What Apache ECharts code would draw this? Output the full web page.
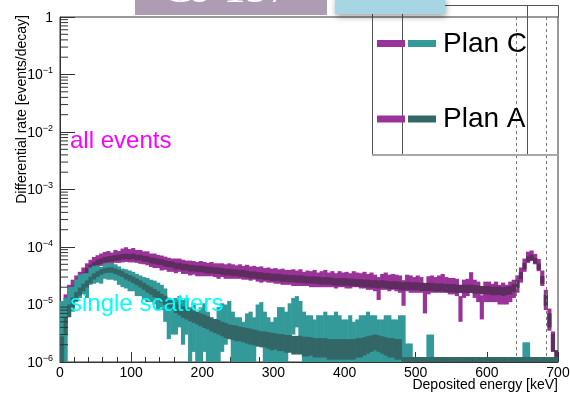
<!DOCTYPE html>
<html>
<head>
<meta charset="utf-8">
<script src="https://cdn.jsdelivr.net/npm/echarts/dist/echarts.min.js"></script>
<style>
  html, body { margin: 0; padding: 0; background: #fff; }
  #chart { width: 570px; height: 395px; }
</style>
</head>
<body>
<div id="chart"></div>
<script>
// Cs-137 deposited-energy spectra, 5 keV bins from 0 to 700 keV.
// Rates are given in units of 1e-6 events/decay; each bin has a value and a symmetric error.
const BIN_WIDTH = 5;
const UNIT = 1e-6;
const Y_MIN = 1e-6, Y_MAX = 1;

// Plan C, all events
const planC_all = [
  3, 10, 16, 20, 24, 28, 34, 41, 48, 54,
  58, 62, 66, 68, 65, 71, 69, 74, 77, 73,
  75, 71, 70, 67, 66, 61, 60, 58, 55, 54,
  51, 50, 49, 50, 47, 46, 45, 45, 43, 44,
  43, 42, 43, 41, 40, 41, 39, 40, 39, 38,
  39, 37, 38, 36, 37, 35, 35, 34, 34, 33,
  33, 32, 32, 31, 31, 31, 30, 31, 29, 30,
  29, 30, 28, 29, 30, 28, 29, 27, 29, 28,
  28, 27, 29, 28, 27, 28, 26, 27, 25, 21,
  26, 27, 25, 26, 25, 24, 18, 25, 24, 23,
  24, 23, 15, 23, 24, 23, 24, 25, 23, 22,
  22, 21, 9.5, 20, 21, 27, 20, 18, 10, 18,
  18, 17, 18, 16, 17, 16, 18, 20, 24, 34,
  50, 68, 72, 63, 50, 30, 13, 6, 2.5, 1.3
];
const planC_allErr = [
  2.5, 5, 6, 7, 8, 9, 10, 11, 12, 13,
  14, 15, 16, 17, 15, 18, 16, 20, 22, 19,
  21, 18, 19, 17, 18, 16, 17, 15, 16, 14,
  14, 13, 14, 13, 13, 12, 13, 12, 12, 13,
  12, 11, 12, 11, 12, 11, 11, 12, 11, 10,
  11, 10, 11, 10, 10, 10, 11, 9, 10, 9,
  10, 9, 10, 9, 9, 10, 9, 10, 8, 9,
  9, 10, 8, 9, 10, 8, 9, 8, 9, 8,
  9, 8, 9, 8, 8, 9, 8, 9, 8, 9,
  8, 9, 8, 8, 8, 8, 8.5, 8, 8, 7,
  8, 7, 8, 8, 8, 7, 8, 9, 7, 7,
  7, 7, 4.5, 7, 7, 9.5, 7, 7, 4.5, 7,
  7, 6, 7, 6, 7, 6, 7, 7, 8, 10,
  13, 15, 15, 13, 12, 9, 5, 2.5, 0.9, 0.3
];

// Plan A, all events
const planA_all = [
  2.5, 9, 14, 18.5, 22, 27.5, 32, 38, 44, 49,
  54, 57, 60, 62, 63, 65, 66, 68, 69, 68,
  69, 66, 66, 63, 62, 59, 58, 56, 55, 52,
  51, 50, 47, 47, 45, 45, 43, 43, 42, 42,
  41, 40, 40, 39, 39, 38, 37, 37, 36, 36,
  35, 35, 34, 33, 33, 32, 32, 31, 31, 30,
  30, 30, 29, 29, 28.5, 28.5, 28, 28, 27.5, 27,
  27, 27, 26.5, 26, 26, 26, 25.5, 25, 25, 25,
  25, 24.5, 24.5, 24, 24, 23.5, 23.5, 23, 23, 22.5,
  23, 22.5, 22, 22, 22, 21.5, 21, 21.5, 21, 21,
  21, 20.5, 20.5, 20.5, 20.5, 20, 20, 20, 19.5, 19.5,
  19.5, 19, 19, 19, 19, 19, 18.5, 18.5, 18, 18,
  18, 17.5, 17.5, 17.5, 17, 17.5, 18, 19.5, 23, 32,
  47, 62, 66, 58, 46, 27, 12, 5.5, 2.3, 1.2
];
const planA_allErr = [
  1.2, 2, 2.5, 2.8, 3.2, 3.6, 4.2, 4.8, 5.3, 5.8,
  6.2, 6.5, 6.8, 7, 7.2, 7.2, 7.4, 7.5, 7.6, 7.6,
  7.5, 7.4, 7.3, 7.2, 7, 6.9, 6.8, 6.6, 6.5, 6.4,
  6.2, 6.1, 6, 5.9, 5.8, 5.7, 5.6, 5.5, 5.5, 5.4,
  5.3, 5.3, 5.2, 5.1, 5.1, 5, 5, 4.9, 4.8, 4.8,
  4.7, 4.7, 4.6, 4.6, 4.5, 4.5, 4.4, 4.4, 4.3, 4.3,
  4.2, 4.2, 4.2, 4.1, 4.1, 4.1, 4, 4, 4, 3.9,
  3.9, 3.9, 3.9, 3.8, 3.8, 3.8, 3.8, 3.7, 3.7, 3.7,
  3.7, 3.7, 3.6, 3.6, 3.6, 3.6, 3.6, 3.5, 3.5, 3.5,
  3.5, 3.5, 3.4, 3.4, 3.4, 3.4, 3.4, 3.4, 3.3, 3.3,
  3.3, 3.3, 3.3, 3.3, 3.3, 3.2, 3.2, 3.2, 3.2, 3.2,
  3.2, 3.1, 3.1, 3.1, 3.1, 3.1, 3.1, 3, 3, 3,
  3, 3, 3, 2.9, 2.9, 2.9, 3, 3.1, 3.5, 4.4,
  5.8, 6.6, 6.9, 6.4, 5.6, 4.2, 2.6, 1.5, 0.8, 0.4
];

// Plan C, single scatters (0 = empty bin)
const planC_single = [
  6, 7, 14, 14, 19, 23, 25, 24, 33, 35,
  36, 34, 40, 39, 40, 38, 34, 31, 30, 28,
  27, 24, 23, 21, 20, 19, 18, 16, 15, 12,
  6, 6, 8, 9, 7, 8, 5, 6, 4, 5,
  6, 4, 2, 3, 5, 6, 6, 7, 4, 3,
  3, 2.5, 4, 4, 3, 6, 6.5, 4, 3, 2.5,
  3, 5, 5, 4, 6, 8, 9, 7, 4, 3.5,
  3.5, 3, 3.5, 3.5, 4, 3.5, 3.5, 4, 3.5, 3,
  3, 3.5, 2.5, 3, 3.5, 3.5, 4, 3.5, 3.5, 3,
  3, 3.5, 3.5, 3, 3, 3.5, 3.5, 1.5, 1.5, 0,
  0, 0, 0, 2.1, 2.1, 0, 0, 0, 0, 0,
  0, 0, 0, 0, 0, 0, 0, 0, 0, 0,
  0, 0, 0, 0, 0, 0, 0, 0, 0, 0,
  1.6, 1.6, 0, 0, 0, 0, 0, 0, 0, 0
];
const planC_singleErr = [
  5.5, 6, 6, 6.5, 8, 10, 10, 11, 11, 12,
  12, 11, 12, 12, 13, 12, 12, 11, 11, 11,
  10, 10, 9, 9, 9, 8, 8, 8, 7, 7,
  3.5, 3, 5, 5, 5, 5, 4, 4.5, 3.5, 4,
  4.5, 3.5, 2, 2.5, 4, 4.5, 4, 4.5, 3.5, 3,
  3, 2.5, 3, 3.5, 3, 4, 4.5, 3.5, 3, 2.5,
  3, 4, 4, 3.5, 4.5, 5, 5, 4.5, 3.5, 3,
  3, 2.5, 3, 3, 3.5, 3, 3, 3.5, 3, 2.5,
  2.5, 3, 2.5, 2.5, 3, 3, 3.5, 3, 3, 2.5,
  2.5, 3, 3, 2.5, 2.5, 3, 3, 0.6, 0.6, 0,
  0, 0, 0, 0.9, 0.9, 0, 0, 0, 0, 0,
  0, 0, 0, 0, 0, 0, 0, 0, 0, 0,
  0, 0, 0, 0, 0, 0, 0, 0, 0, 0,
  0.6, 0.6, 0, 0, 0, 0, 0, 0, 0, 0
];

// Plan A, single scatters
const planA_single = [
  1.8, 4.5, 8, 11, 14, 17, 20, 23, 27, 31,
  34, 37, 39, 40, 40, 38, 36, 34, 31, 29,
  27, 25, 23, 21, 19, 17.5, 16, 14.5, 13, 12,
  11, 10, 9, 8.3, 7.6, 7.1, 6.7, 6.3, 6, 5.6,
  5.3, 5, 4.7, 4.4, 4.2, 3.9, 3.7, 3.5, 3.4, 3.3,
  3.2, 3.1, 3, 2.9, 2.8, 2.7, 2.6, 2.6, 2.5, 2.4,
  2.4, 2.3, 2.3, 2.2, 2.2, 2.1, 2.1, 2.1, 2, 2,
  2, 1.9, 1.9, 1.9, 1.9, 1.8, 1.8, 1.8, 1.8, 1.8,
  1.8, 1.8, 1.8, 1.9, 1.9, 2, 2.1, 2.2, 2.3, 2.2,
  2.1, 2, 1.9, 1.9, 1.8, 1.8, 1.1, 1.1, 1.1, 1.1,
  1.1, 1.1, 1.1, 1.1, 1.1, 1.1, 1.1, 1.1, 1.1, 1.1,
  1.1, 1.1, 1.1, 1.1, 1.1, 1.1, 1.1, 1.1, 1.1, 1.1,
  1.1, 1.1, 1.1, 1.1, 1.1, 1.1, 1.1, 1.1, 1.1, 1.1,
  1.1, 1.1, 1.1, 1.1, 1.1, 1.1, 1.1, 1.1, 1.1, 1.1
];
const planA_singleErr = [
  1, 1.5, 2, 2.2, 2.5, 2.7, 3, 3.2, 3.5, 3.7,
  3.9, 4, 4.2, 4.2, 4.2, 4.1, 4, 3.9, 3.7, 3.6,
  3.5, 3.3, 3.2, 3, 2.9, 2.7, 2.6, 2.5, 2.3, 2.2,
  2.1, 2, 1.9, 1.8, 1.7, 1.6, 1.6, 1.5, 1.5, 1.4,
  1.4, 1.3, 1.3, 1.2, 1.2, 1.1, 1.1, 1, 1, 1,
  0.9, 0.9, 0.9, 0.9, 0.85, 0.85, 0.8, 0.8, 0.8, 0.8,
  0.75, 0.75, 0.75, 0.75, 0.75, 0.75, 0.75, 0.75, 0.75, 0.75,
  0.7, 0.7, 0.7, 0.7, 0.7, 0.7, 0.7, 0.7, 0.7, 0.7,
  0.7, 0.7, 0.7, 0.7, 0.7, 0.7, 0.7, 0.7, 0.7, 0.7,
  0.7, 0.7, 0.7, 0.7, 0.7, 0.7, 0.12, 0.12, 0.12, 0.12,
  0.12, 0.12, 0.12, 0.12, 0.12, 0.12, 0.12, 0.12, 0.12, 0.12,
  0.12, 0.12, 0.12, 0.12, 0.12, 0.12, 0.12, 0.12, 0.12, 0.12,
  0.12, 0.12, 0.12, 0.12, 0.12, 0.12, 0.12, 0.12, 0.12, 0.12,
  0.12, 0.12, 0.12, 0.12, 0.12, 0.12, 0.12, 0.12, 0.12, 0.12
];

// Photopeak energy window edges (keV)
const windowEdges = [642, 683];

// Axis ticks
const xTicks = [0, 100, 200, 300, 400, 500, 600, 700];
const yDecades = [-6, -5, -4, -3, -2, -1, 0];

const FONT = 'Liberation Sans, Arial, Helvetica, sans-serif';
const AXIS_COLOR = '#333';
const COLORS = {
  planC_all: '#993399',
  planA_all: '#5e2c5e',
  planC_single: '#339999',
  planA_single: '#336666'
};

// (x0, x1, lo, hi) rows for one histogram
function binRows(vals, errs) {
  const rows = [];
  vals.forEach((v, i) => {
    if (v <= 0) return;
    const x0 = i * BIN_WIDTH, x1 = (i + 1) * BIN_WIDTH;
    const lo = Math.max((v - errs[i]) * UNIT, Y_MIN);
    const hi = (v + errs[i]) * UNIT;
    rows.push([x0, x1, lo, hi]);
  });
  return rows;
}

function histSeries(name, vals, errs, color, z) {
  return {
    name, type: 'custom', z, silent: true, clip: true,
    data: binRows(vals, errs),
    encode: { x: [0, 1], y: [2, 3] },
    renderItem(params, api) {
      const a = api.coord([api.value(0), api.value(3)]);
      const b = api.coord([api.value(1), api.value(2)]);
      return {
        type: 'rect',
        shape: { x: a[0], y: a[1], width: b[0] - a[0] + 0.6, height: Math.max(b[1] - a[1], 1) },
        style: { fill: color }
      };
    }
  };
}

// Minor ticks on the log axis (2..9 within each decade)
const yMinorTicks = [];
yDecades.slice(0, -1).forEach(d => {
  for (let k = 2; k <= 9; k++) yMinorTicks.push([0, k * Math.pow(10, d)]);
});

const chart = echarts.init(document.getElementById('chart'), null, { renderer: 'canvas' });

const option = {
  animation: false,
  backgroundColor: '#fff',
  grid: {
    left: 60, right: 12, top: 17, bottom: 33,
    containLabel: false, outerBoundsMode: 'none',
    show: true, borderColor: AXIS_COLOR, borderWidth: 1, backgroundColor: 'transparent'
  },
  xAxis: {
    type: 'value', min: xTicks[0], max: xTicks[xTicks.length - 1], interval: 100,
    axisLine: { onZero: false, lineStyle: { color: AXIS_COLOR, width: 1 } },
    axisTick: { inside: true, length: 10, lineStyle: { color: AXIS_COLOR } },
    minorTick: { show: true, splitNumber: 5, length: 5, lineStyle: { color: AXIS_COLOR } },
    splitLine: { show: false },
    axisLabel: { margin: 4, color: '#000', fontFamily: FONT, fontSize: 14 }
  },
  yAxis: {
    type: 'log', logBase: 10, min: Y_MIN, max: Y_MAX, splitNumber: 6,
    axisLine: { lineStyle: { color: AXIS_COLOR, width: 1 } },
    axisTick: { inside: true, length: 15, lineStyle: { color: AXIS_COLOR } },
    splitLine: { show: false },
    axisLabel: {
      margin: 7, lineHeight: 16, color: '#000',
      formatter(v) {
        const e = Math.round(Math.log10(v));
        return e === 0 ? '{b|1}' : '{b|10}{s|\u2212' + Math.abs(e) + '}';
      },
      rich: {
        b: { fontFamily: FONT, fontSize: 14, color: '#000', verticalAlign: 'bottom' },
        s: { fontFamily: FONT, fontSize: 9, color: '#000', verticalAlign: 'top' }
      }
    }
  },
  series: [
    histSeries('Plan C all events', planC_all, planC_allErr, COLORS.planC_all, 2),
    histSeries('Plan A all events', planA_all, planA_allErr, COLORS.planA_all, 3),
    histSeries('Plan C single scatters', planC_single, planC_singleErr, COLORS.planC_single, 4),
    Object.assign(
      histSeries('Plan A single scatters', planA_single, planA_singleErr, COLORS.planA_single, 5),
      {
        markLine: {
          silent: true, symbol: 'none', label: { show: false },
          lineStyle: { color: '#777', type: [3, 3], width: 1 },
          data: windowEdges.map(v => ({ xAxis: v }))
        }
      }
    ),
    {
      name: 'minor ticks', type: 'custom', z: 6, silent: true, clip: false,
      data: yMinorTicks,
      encode: { x: 0, y: 1 },
      renderItem(params, api) {
        const p = api.coord([api.value(0), api.value(1)]);
        return {
          type: 'line',
          shape: { x1: p[0], y1: p[1], x2: p[0] + 8, y2: p[1] },
          style: { stroke: AXIS_COLOR, lineWidth: 1 }
        };
      }
    }
  ],
  graphic: [
    // title boxes at the top edge
    { type: 'rect', z: 20, shape: { x: 135, y: -2, width: 192, height: 17 }, style: { fill: '#ae9bb4' } },
    { type: 'text', z: 21, x: 226, y: -10,
      style: { text: 'Cs-137', fill: '#fff', font: '44px Liberation Serif, Times New Roman, serif', align: 'center', verticalAlign: 'middle' } },
    // legend frame
    { type: 'line', z: 15, shape: { x1: 372.5, y1: 0, x2: 372.5, y2: 155 }, style: { stroke: '#555', lineWidth: 1 } },
    { type: 'line', z: 15, shape: { x1: 402.5, y1: 0, x2: 402.5, y2: 155 }, style: { stroke: '#555', lineWidth: 1 } },
    { type: 'line', z: 15, shape: { x1: 527.5, y1: 5.5, x2: 527.5, y2: 155 }, style: { stroke: '#555', lineWidth: 1 } },
    { type: 'line', z: 15, shape: { x1: 440, y1: 5.5, x2: 558.5, y2: 5.5 }, style: { stroke: '#555', lineWidth: 1 } },
    { type: 'line', z: 15, shape: { x1: 558.5, y1: 5.5, x2: 558.5, y2: 17 }, style: { stroke: '#555', lineWidth: 1 } },
    { type: 'line', z: 15, shape: { x1: 372, y1: 155, x2: 558, y2: 155 }, style: { stroke: '#a8a8a8', lineWidth: 2 } },
    { type: 'rect', z: 22, shape: { x: 335, y: -4, width: 110, height: 18 },
      style: { fill: '#a6d6e3', shadowBlur: 6, shadowOffsetX: 1, shadowOffsetY: 3, shadowColor: 'rgba(0,0,0,0.35)' } },
    // legend entries
    { type: 'rect', z: 16, shape: { x: 377, y: 40, width: 28, height: 7 }, style: { fill: COLORS.planC_all } },
    { type: 'rect', z: 16, shape: { x: 408, y: 40, width: 28, height: 7 }, style: { fill: COLORS.planC_single } },
    { type: 'text', z: 16, x: 443, y: 44.5,
      style: { text: 'Plan C', fill: '#000', font: '28px ' + FONT, align: 'left', verticalAlign: 'middle' } },
    { type: 'rect', z: 16, shape: { x: 377, y: 115.5, width: 28, height: 7 }, style: { fill: COLORS.planC_all } },
    { type: 'rect', z: 16, shape: { x: 408, y: 115.5, width: 28, height: 7 }, style: { fill: COLORS.planA_single } },
    { type: 'text', z: 16, x: 443, y: 119.5,
      style: { text: 'Plan A', fill: '#000', font: '28px ' + FONT, align: 'left', verticalAlign: 'middle' } },
    // annotations
    { type: 'text', z: 16, x: 70, y: 141,
      style: { text: 'all events', fill: '#ff00ff', font: '24px ' + FONT, align: 'left', verticalAlign: 'middle' } },
    { type: 'text', z: 16, x: 70, y: 304,
      style: { text: 'single scatters', fill: '#00ffff', font: '24px ' + FONT, align: 'left', verticalAlign: 'middle' } },
    // axis titles
    { type: 'text', z: 16, x: 22, y: 15, rotation: Math.PI / 2,
      style: { text: 'Differential rate [events/decay]', fill: '#000', font: '14px ' + FONT, align: 'right', verticalAlign: 'middle' } },
    { type: 'text', z: 16, x: 558, y: 385,
      style: { text: 'Deposited energy [keV]', fill: '#000', font: '14px ' + FONT, align: 'right', verticalAlign: 'middle' } }
  ]
};

chart.setOption(option);
</script>
</body>
</html>
